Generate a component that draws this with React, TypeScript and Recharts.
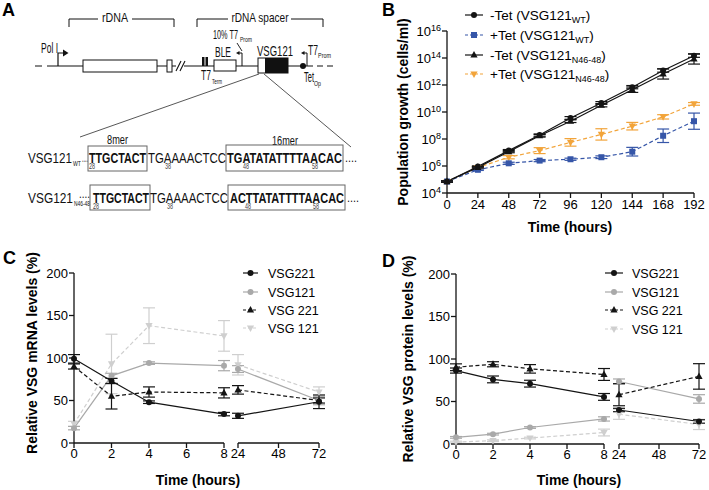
import React from "react";
import { LineChart, Line, XAxis, YAxis, ErrorBar } from "recharts";

const FONT = '"Liberation Sans", Arial, Helvetica, sans-serif';
const BLACK = "#141414";
const GRAY = "#a9a9a9";
const LIGHT = "#cfcfcf";
const BLUE = "#3656a8";
const ORANGE = "#f2a43a";

// ---- B: population growth, values are log10(cells/ml)
const growthHours = [0, 24, 48, 72, 96, 120, 144, 168, 192];
const growthExpTicks = [4, 6, 8, 10, 12, 14, 16];
const wtNoTet = [4.85, 5.96, 7.14, 8.29, 9.56, 10.67, 11.84, 13.07, 14.17];
const wtNoTetErr = [0.05, 0.05, 0.08, 0.08, 0.1, 0.1, 0.12, 0.12, 0.12];
const wtTet = [4.85, 5.72, 6.2, 6.4, 6.5, 6.65, 7.06, 8.24, 9.32];
const wtTetErr = [0.05, 0.05, 0.08, 0.08, 0.08, 0.1, 0.32, 0.5, 0.6];
const mutNoTet = [4.85, 5.9, 7.06, 8.24, 9.32, 10.5, 11.65, 12.82, 13.93];
const mutNoTetErr = [0.05, 0.05, 0.08, 0.1, 0.1, 0.12, 0.2, 0.38, 0.38];
const mutTet = [4.85, 5.89, 6.65, 7.14, 7.75, 8.34, 8.95, 9.64, 10.6];
const mutTetErr = [0.05, 0.08, 0.12, 0.22, 0.28, 0.42, 0.28, 0.16, 0.1];

// ---- C / D: time course (%)
const courseHours = [0, 2, 4, 8, 24, 72];
const earlyTicks = [0, 2, 4, 6, 8];
const lateTicks = [24, 48, 72];
const pctTicks = [0, 50, 100, 150, 200];

const mrna221 = [99, 73, 48, 34, 32, 48.5];
const mrna221Err = [5, 3, 1.5, 2, 3, 8];
const mrna121 = [17.5, 79, 94, 91, 87, 50];
const mrna121Err = [2, 3, 1.5, 6, 4, 5];
const mrna221b = [90, 55, 60, 59, 62.5, 50];
const mrna221bErr = [3, 15, 6, 6, 5, 3];
const mrna121b = [22.5, 93, 138, 126, 92, 60];
const mrna121bErr = [3, 35, 21, 18, 12, 6];

const prot221 = [86.4, 76, 71, 55.4, 40, 26.5];
const prot221Err = [3, 4, 4, 4, 2, 2];
const prot121 = [7.8, 11.6, 19.4, 29.5, 73.5, 53];
const prot121Err = [1, 1, 1, 2.5, 3, 5];
const prot221b = [90.3, 93.8, 88.4, 81.8, 58, 79.5];
const prot221bErr = [4, 3, 5, 7, 13, 15];
const prot121b = [2.3, 3.9, 7, 13.5, 35, 23];
const prot121bErr = [1, 1, 1, 4, 6, 6];

type Shape = "circle" | "square" | "triangle" | "triangleDown";
type Series = { key: string; name: string; sub?: string; color: string; dash: boolean; shape: Shape };

const growthSeries: Series[] = [
  { key: "wtNoTet", name: "-Tet (VSG121", sub: "WT", color: BLACK, dash: false, shape: "circle" },
  { key: "wtTet", name: "+Tet (VSG121", sub: "WT", color: BLUE, dash: true, shape: "square" },
  { key: "mutNoTet", name: "-Tet (VSG121", sub: "N46-48", color: BLACK, dash: false, shape: "triangle" },
  { key: "mutTet", name: "+Tet (VSG121", sub: "N46-48", color: ORANGE, dash: true, shape: "triangleDown" },
];

const courseSeries: Series[] = [
  { key: "s221", name: "VSG221", color: BLACK, dash: false, shape: "circle" },
  { key: "s121", name: "VSG121", color: GRAY, dash: false, shape: "circle" },
  { key: "s221b", name: "VSG 221", color: BLACK, dash: true, shape: "triangle" },
  { key: "s121b", name: "VSG 121", color: LIGHT, dash: true, shape: "triangleDown" },
];

const growthRows = growthHours.map((t, i) => ({
  t,
  wtNoTet: wtNoTet[i], wtNoTetErr: wtNoTetErr[i],
  wtTet: wtTet[i], wtTetErr: wtTetErr[i],
  mutNoTet: mutNoTet[i], mutNoTetErr: mutNoTetErr[i],
  mutTet: mutTet[i], mutTetErr: mutTetErr[i],
}));

const mrnaRows = courseHours.map((t, i) => ({
  t,
  s221: mrna221[i], s221Err: mrna221Err[i],
  s121: mrna121[i], s121Err: mrna121Err[i],
  s221b: mrna221b[i], s221bErr: mrna221bErr[i],
  s121b: mrna121b[i], s121bErr: mrna121bErr[i],
}));

const protRows = courseHours.map((t, i) => ({
  t,
  s221: prot221[i], s221Err: prot221Err[i],
  s121: prot121[i], s121Err: prot121Err[i],
  s221b: prot221b[i], s221bErr: prot221bErr[i],
  s121b: prot121b[i], s121bErr: prot121bErr[i],
}));

const axisLine = { stroke: BLACK, strokeWidth: 1.3 };
const tickText = { fill: "#000", fontSize: 13, fontFamily: FONT };

function Marker({ shape, x, y, color }: { shape: Shape; x: number; y: number; color: string }) {
  if (shape === "square") return <rect x={x - 3} y={y - 3} width={6} height={6} fill={color} />;
  if (shape === "triangle")
    return <path d={`M${x},${y - 4}L${x + 3.6},${y + 2.6}L${x - 3.6},${y + 2.6}Z`} fill={color} />;
  if (shape === "triangleDown")
    return <path d={`M${x},${y + 4}L${x + 3.6},${y - 2.6}L${x - 3.6},${y - 2.6}Z`} fill={color} />;
  return <circle cx={x} cy={y} r={3} fill={color} />;
}

const dotFor = (shape: Shape, color: string) => (p: any) => {
  if (p.cx == null || p.cy == null) return <g key={`e${p.index}`} />;
  return <Marker key={`d${p.index}`} shape={shape} x={p.cx} y={p.cy} color={color} />;
};

function PowTick(props: any) {
  const { x, y, payload } = props;
  return (
    <text x={x} y={y + 4.5} textAnchor="end" fontSize={13} fill="#000" fontFamily={FONT}>
      10
      <tspan dy={-5} fontSize={9}>
        {payload.value}
      </tspan>
    </text>
  );
}

function seriesLines(series: Series[], order: number[]) {
  return order.map((i) => {
    const s = series[i];
    return (
      <Line
        key={s.key}
        type="linear"
        dataKey={s.key}
        stroke={s.color}
        strokeWidth={1.2}
        strokeDasharray={s.dash ? "4 2.5" : undefined}
        dot={dotFor(s.shape, s.color)}
        activeDot={false}
        isAnimationActive={false}
      >
        <ErrorBar dataKey={s.key + "Err"} width={6} stroke={s.color} strokeWidth={1.2} direction="y" />
      </Line>
    );
  });
}

function GrowthChart() {
  return (
    <div style={{ position: "absolute", left: 360, top: 0 }}>
      <LineChart width={349} height={240} data={growthRows} margin={{ top: 31, right: 15, bottom: 17, left: 47 }}>
        <XAxis type="number" dataKey="t" domain={[0, 192]} ticks={growthHours} interval={0} height={30}
          tickSize={5} tickMargin={2} axisLine={axisLine} tickLine={axisLine} tick={tickText} />
        <YAxis type="number" domain={[4, 16]} ticks={growthExpTicks} interval={0} width={40}
          tickSize={5} tickMargin={1} axisLine={axisLine} tickLine={axisLine} tick={<PowTick />} />
        {seriesLines(growthSeries, [3, 1, 2, 0])}
      </LineChart>
    </div>
  );
}

function SplitChart({ rows, left, lateLeft, lateWidth, top, mTop, mBottom, mLeft, mRight }: any) {
  const early = rows.filter((r: any) => r.t <= 8);
  const late = rows.filter((r: any) => r.t >= 24);
  const order = [3, 1, 2, 0];
  return (
    <>
      <div style={{ position: "absolute", left, top }}>
        <LineChart width={240} height={240} data={early} margin={{ top: mTop, right: 16, bottom: mBottom, left: mLeft }}>
          <XAxis type="number" dataKey="t" domain={[0, 8]} ticks={earlyTicks} interval={0} height={30}
            tickSize={5} tickMargin={1} axisLine={axisLine} tickLine={axisLine} tick={tickText} />
          <YAxis type="number" domain={[0, 200]} ticks={pctTicks} interval={0} width={34}
            tickSize={5} tickMargin={1} axisLine={axisLine} tickLine={axisLine} tick={tickText} />
          {seriesLines(courseSeries, order)}
        </LineChart>
      </div>
      <div style={{ position: "absolute", left: lateLeft, top }}>
        <LineChart width={lateWidth} height={240} data={late} margin={{ top: mTop, right: mRight, bottom: mBottom, left: 8 }}>
          <XAxis type="number" dataKey="t" domain={[24, 72]} ticks={lateTicks} interval={0} height={30}
            tickSize={5} tickMargin={1} axisLine={axisLine} tickLine={axisLine} tick={tickText} />
          <YAxis hide type="number" domain={[0, 200]} />
          {seriesLines(courseSeries, order)}
        </LineChart>
      </div>
    </>
  );
}

function LegendRows({ series, x1, x2, textX, rows, size, subSize }: any) {
  return (
    <g>
      {series.map((s: Series, i: number) => {
        const y = rows[i];
        return (
          <g key={s.key}>
            <line x1={x1} x2={x2} y1={y} y2={y} stroke={s.color} strokeWidth={1.2}
              strokeDasharray={s.dash ? "3 2" : undefined} />
            <Marker shape={s.shape} x={(x1 + x2) / 2} y={y} color={s.color} />
            <text x={textX} y={y + 4.5} fontSize={size} fill="#000">
              {s.name}
              {s.sub && <tspan fontSize={subSize} dy={3}>{s.sub}</tspan>}
              {s.sub && <tspan dy={-3}>)</tspan>}
            </text>
          </g>
        );
      })}
    </g>
  );
}

function T({ x, y, w, size = 14, bold, fill = "#111", anchor, children }: any) {
  return (
    <text x={x} y={y} fontSize={size} fontWeight={bold ? 700 : 400} fill={fill}
      textLength={w} lengthAdjust="spacingAndGlyphs" textAnchor={anchor}>
      {children}
    </text>
  );
}

function Diagram() {
  const k = "#111";
  return (
    <g stroke="none">
      {/* brackets */}
      <path d="M69,27V19H98M132,19H174V27" fill="none" stroke={k} strokeWidth={1} />
      <T x={115} y={22} w={26} size={13} anchor="middle">rDNA</T>
      <path d="M197,27V19H228M291,19H323V27" fill="none" stroke={k} strokeWidth={1} />
      <T x={260} y={22} w={57} size={13} anchor="middle">rDNA spacer</T>
      {/* backbone */}
      <path d="M35,66H42M47,66H54" stroke={k} strokeWidth={1.2} />
      <path d="M54,66H176M184,66H313" stroke={k} strokeWidth={1.2} />
      <path d="M317,66H323M327,66H333" stroke={k} strokeWidth={1.2} />
      <path d="M176,71L181,61M180,71L185,61" stroke={k} strokeWidth={1.1} />
      {/* Pol I */}
      <path d="M58,66V53H64" fill="none" stroke={k} strokeWidth={1.2} />
      <path d="M63,49.5L68.5,53L63,56.5Z" fill={k} />
      <T x={41} y={53} w={17}>Pol I</T>
      <rect x={83} y={60} width={74} height={12} fill="#fff" stroke={k} strokeWidth={1} />
      <rect x={167} y={60} width={5} height={12} fill="#fff" stroke={k} strokeWidth={1} />
      {/* T7 term */}
      <rect x={202} y={57} width={2.5} height={9} fill={k} />
      <rect x={205.5} y={57} width={2.5} height={9} fill={k} />
      <T x={201} y={80} w={10}>T7</T>
      <T x={212} y={84} w={10} size={7}>Term</T>
      {/* BLE */}
      <rect x={214} y={60} width={22} height={11} fill="#fff" stroke={k} strokeWidth={1} />
      <T x={215} y={57} w={16}>BLE</T>
      {/* 10% T7 prom */}
      <path d="M242,66V53H239" fill="none" stroke={k} strokeWidth={1} />
      <path d="M239.5,51L236,53L239.5,55Z" fill={k} />
      <path d="M237,43L242,51" stroke={k} strokeWidth={0.9} />
      <T x={213} y={39} w={25} size={13}>10% T7</T>
      <T x={240} y={42} w={12} size={7}>Prom</T>
      {/* VSG121 */}
      <rect x={258} y={58} width={30} height={15} fill="#fff" stroke={k} strokeWidth={1} />
      <rect x={265} y={58} width={23} height={15} fill={k} />
      <T x={257} y={56} w={36}>VSG121</T>
      {/* Tet op + T7 prom */}
      <circle cx={303} cy={66} r={3} fill={k} />
      <path d="M307,66V53H304" fill="none" stroke={k} strokeWidth={1} />
      <path d="M304.5,51L301,53L304.5,55Z" fill={k} />
      <T x={308} y={55} w={10}>T7</T>
      <T x={318} y={58} w={13} size={7}>Prom</T>
      <T x={304} y={82} w={10}>Tet</T>
      <T x={314} y={86} w={7} size={7}>Op</T>
      {/* zoom lines */}
      <path d="M259,74L80,137M264,74L351,147" stroke="#444" strokeWidth={0.9} />
      {/* row 1 */}
      <T x={107} y={144} w={21} size={13}>8mer</T>
      <T x={272} y={145} w={26} size={13}>16mer</T>
      <T x={28} y={162.5} w={44} size={14.5}>VSG121</T>
      <T x={73} y={166} w={8} size={7.5}>WT</T>
      <T x={82} y={162} w={6} size={13}>....</T>
      <rect x={88} y={146} width={59} height={25} fill="none" stroke="#666" strokeWidth={1} />
      <T x={89} y={162.5} w={57} size={14.5} bold>TTGCTACT</T>
      <T x={148} y={162.5} w={78} size={14.5}>TGAAAACTCC</T>
      <rect x={226} y={145} width={117} height={26} fill="none" stroke="#666" strokeWidth={1} />
      <T x={227} y={162.5} w={115} size={14.5} bold>TGATATATTTTAACAC</T>
      <T x={345} y={162} w={12} size={13}>....</T>
      <T x={89} y={169} w={6} size={8.5} fill="#444">28</T>
      <T x={165} y={169} w={6} size={8.5} fill="#444">38</T>
      <T x={243} y={169} w={6} size={8.5} fill="#444">48</T>
      <T x={312} y={169} w={6} size={8.5} fill="#444">58</T>
      {/* row 2 */}
      <T x={28} y={202.5} w={45} size={14.5}>VSG121</T>
      <T x={74} y={206} w={16} size={7}>N46-48</T>
      <T x={79} y={198} w={11} size={13}>....</T>
      <rect x={90} y={185} width={60} height={25} fill="none" stroke="#666" strokeWidth={1} />
      <T x={93} y={202.5} w={56} size={14.5} bold>TTGCTACT</T>
      <T x={150} y={202.5} w={78} size={14.5}>TGAAAACTCC</T>
      <rect x={228} y={185} width={117} height={25} fill="none" stroke="#666" strokeWidth={1} />
      <T x={230} y={202.5} w={114} size={14.5} bold>ACTTATATTTTAACAC</T>
      <T x={347} y={202} w={12} size={13}>....</T>
      <T x={93} y={208.5} w={6} size={8.5} fill="#444">28</T>
      <T x={167} y={208.5} w={6} size={8.5} fill="#444">38</T>
      <T x={245} y={208.5} w={6} size={8.5} fill="#444">48</T>
      <T x={313} y={208.5} w={6} size={8.5} fill="#444">58</T>
    </g>
  );
}

function Overlay() {
  const title = { fontSize: 14, fontWeight: 700, fill: "#000" } as const;
  return (
    <svg width={709} height={490} style={{ position: "absolute", left: 0, top: 0, pointerEvents: "none" }}
      fontFamily={FONT}>
      <Diagram />
      <text x={2} y={16} fontSize={18} fontWeight={700}>A</text>
      <text x={382} y={16} fontSize={18} fontWeight={700}>B</text>
      <text x={3} y={264} fontSize={18} fontWeight={700}>C</text>
      <text x={382} y={267} fontSize={18} fontWeight={700}>D</text>

      <text x={570} y={232} textAnchor="middle" {...title}>Time (hours)</text>
      <text transform="translate(403,112) rotate(-90)" x={0} y={5} textAnchor="middle" {...title}>
        Population growth (cells/ml)
      </text>
      <text x={198} y={485} textAnchor="middle" {...title}>Time (hours)</text>
      <text transform="translate(32,353) rotate(-90)" x={0} y={5} textAnchor="middle" {...title}>
        Relative VSG mRNA levels (%)
      </text>
      <text x={579} y={485} textAnchor="middle" {...title}>Time (hours)</text>
      <text transform="translate(408,359) rotate(-90)" x={0} y={5} textAnchor="middle" {...title}>
        Relative VSG protein levels (%)
      </text>

      <LegendRows series={growthSeries} x1={465} x2={483} textX={490} rows={[15, 35, 55, 74]} size={13.5} subSize={9} />
      <LegendRows series={courseSeries} x1={243} x2={258} textX={268} rows={[273, 292, 310, 328]} size={12.5} subSize={9} />
      <LegendRows series={courseSeries} x1={605} x2={623} textX={632} rows={[273, 292, 310, 329]} size={12.5} subSize={9} />
    </svg>
  );
}

export default function App() {
  return (
    <div style={{ position: "absolute", left: 0, top: 0, width: 709, height: 490, background: "#fff",
      fontFamily: FONT, overflow: "hidden" }}>
      <GrowthChart />
      <SplitChart rows={mrnaRows} left={0} lateLeft={230} lateWidth={100} top={250}
        mTop={23} mBottom={17} mLeft={40} mRight={11} />
      <SplitChart rows={protRows} left={380} lateLeft={611} lateWidth={98} top={250}
        mTop={24} mBottom={16} mLeft={42} mRight={10} />
      <Overlay />
    </div>
  );
}
